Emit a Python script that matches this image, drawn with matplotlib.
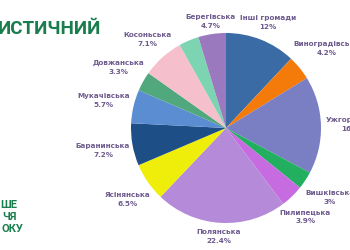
import matplotlib
matplotlib.use('Agg')
import matplotlib.pyplot as plt
import numpy as np

# slices, clockwise from 12 o'clock
names = ['Інші громади', 'Виноградівська', 'Ужгородська', 'Вишківська', 'Пилипецька',
         'Полянська', 'Ясінянська', 'Баранинська', 'Мукачівська', 'Довжанська',
         'Косоньська', '', 'Берегівська']
shares = [12, 4.2, 16.6, 3, 3.9, 22.4, 6.5, 7.2, 5.7, 3.3, 7.1, 3.4, 4.7]
colors = ['#3b6ba5', '#f47b0a', '#7a7ec2', '#22b060', '#c66be0', '#b58ad8', '#eeee0a',
          '#1d4e86', '#5b8dd3', '#51a87c', '#f6bfcc', '#7dd4b3', '#9b79be']

title_part = 'ИСТИЧНИЙ'
side_lines = ['ШЕ', 'ЧЯ', 'ОКУ']

W, H = 350, 250
R = 95.0          # pie radius in px
cx, cy = 226, 128  # pie centre in px (from top-left)

# small label nudges in px (right, down) to follow the original spread
nudge = [(-5, -6), (-2, -12), (0, 0), (0, 10), (-8, 11), (0, 1), (2, 10),
         (2, 4), (0, -3), (2, -8), (4, -9), (0, 0), (3, 0)]

fig = plt.figure(figsize=(W / 100, H / 100), dpi=100)
fig.patch.set_facecolor('white')
ax = fig.add_axes([0, 0, 1, 1])
wedges, _ = ax.pie(shares, colors=colors, startangle=90, counterclock=False, radius=1)
ax.set_xlim(-cx / R, (W - cx) / R)
ax.set_ylim(-(H - cy) / R, cy / R)
ax.set_aspect('auto')
ax.axis('off')

# labels outside the pie, pushed out along the mid angle
fig.canvas.draw()
renderer = fig.canvas.get_renderer()
gap = 0.05
for w, name, val, (nx, ny) in zip(wedges, names, shares, nudge):
    if not name:
        continue
    th = np.deg2rad((w.theta1 + w.theta2) / 2)
    c, s = np.cos(th), np.sin(th)
    x0, y0 = (1 + gap) * c, (1 + gap) * s
    t = ax.text(x0, y0, f'{name}\n{val:g}%', ha='center', va='center',
                fontsize=5.2, fontweight='bold', color='#6e5b8f',
                family='DejaVu Sans', linespacing=1.6)
    bb = t.get_window_extent(renderer)
    hw, hh = bb.width / 2 / R, bb.height / 2 / R
    t.set_position((x0 + c * hw + nx / R, y0 + s * hh - ny / R))

green = '#1a7d4d'
fig.text(-2 / W, 1 - 29.5 / H, title_part, ha='left', va='center',
         fontsize=13.5, fontweight='bold', color=green, family='Roboto')
for txt, xr, yc in zip(side_lines, [17, 17, 23], [205, 217, 229]):
    fig.text(xr / W, 1 - yc / H, txt, ha='right', va='center',
             fontsize=8, fontweight='bold', color=green, family='Roboto')

fig.savefig('out.png', dpi=100)
